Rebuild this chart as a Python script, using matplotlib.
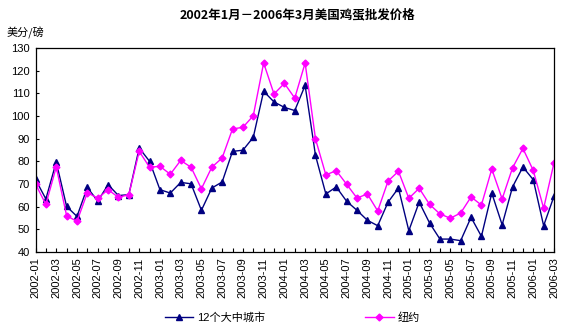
import matplotlib
matplotlib.use("Agg")
import matplotlib.pyplot as plt

plt.rcParams['font.family'] = ['Liberation Sans', 'Noto Sans CJK SC', 'DejaVu Sans']

# months 2002-01 .. 2006-03
months = [f"{2002 + i // 12}-{i % 12 + 1:02d}" for i in range(51)]

cities12 = [72, 63.4, 79.7, 60.1, 55.7, 68.5, 62.4, 69.7, 64.9, 65.3,
            85.9, 80, 67.5, 66, 70.7, 70.1, 58.4, 68.2, 70.9, 84.4,
            84.9, 90.6, 110.9, 106.2, 103.8, 102.4, 113.5, 82.6, 65.6, 68.7,
            62.4, 58.4, 54, 51.6, 62, 68.2, 49.4, 62, 52.8, 45.7,
            45.7, 45, 55.3, 46.9, 66, 52, 68.7, 77.5, 71.9, 51.6, 64.6]
newyork = [70, 61, 77.5, 56, 53.5, 66.2, 63.7, 67.5, 64.1, 65.3,
           84.4, 77.4, 77.8, 74.3, 80.4, 77.4, 67.9, 77.4, 81.5, 94.3,
           95, 100.1, 123.4, 109.7, 114.4, 107.9, 123.4, 89.9, 74, 75.9,
           69.9, 63.8, 65.6, 58.1, 71.3, 75.6, 63.7, 68.1, 61, 56.8,
           54.9, 57.2, 64.3, 60.7, 76.6, 63.4, 77.1, 85.7, 76, 59.3, 79.3]

fig = plt.figure(figsize=(5.77, 3.30), dpi=100)
ax = fig.add_axes([35.5 / 577, 1 - 252 / 330, (554 - 35.5) / 577, (252 - 48) / 330])

x = list(range(len(months)))
ax.plot(x, cities12, color='#000080', marker='^', markersize=5, linewidth=1,
        label='12个大中城市')
ax.plot(x, newyork, color='#FF00FF', marker='D', markersize=3.5, linewidth=1,
        label='纽约')

ax.set_xlim(0, len(months) - 1)
ax.set_ylim(40, 130)
ax.set_yticks(range(40, 131, 10))
ax.set_xticks(x[::2])
ax.set_xticklabels(months[::2], rotation=90, fontsize=8)
ax.set_xticks(x, minor=True)
ax.tick_params(axis='x', which='both', direction='in', length=3, width=0.8, pad=4)
ax.tick_params(axis='y', direction='in', length=2, width=0.8, labelsize=8, pad=4)
for s in ax.spines.values():
    s.set_linewidth(0.9)

fig.text(0.515, 0.955, '2002年1月－2006年3月美国鸡蛋批发价格', ha='center', va='center',
         fontsize=9, fontweight='bold', family=['Noto Sans CJK SC', 'DejaVu Sans'])
fig.text(7 / 577, 1 - 33 / 330, '美分/磅', ha='left', va='center', fontsize=8,
         family=['Noto Sans CJK SC', 'DejaVu Sans'])

fig.legend(loc='center', bbox_to_anchor=(292 / 577, 1 - 318 / 330), ncol=2,
           frameon=False, handlelength=2.6, columnspacing=9, handletextpad=0.3,
           prop={'family': ['Liberation Sans', 'Noto Sans CJK SC'], 'size': 8})

fig.savefig('out.png', dpi=100)
